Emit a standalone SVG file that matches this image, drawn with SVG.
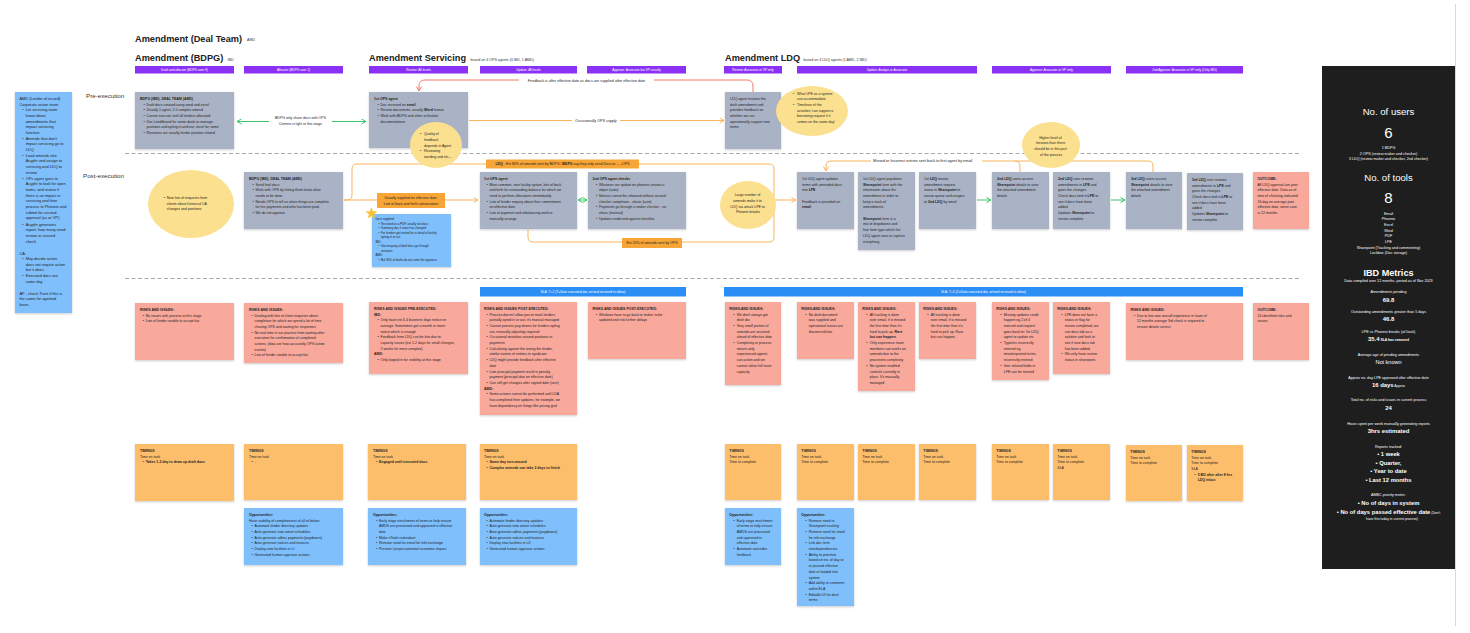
<svg xmlns="http://www.w3.org/2000/svg" width="1470" height="633" viewBox="0 0 1470 633">
<defs>
<style>
text{font-family:"Liberation Sans",Arial,sans-serif;fill:#1d1d1d}
.t{font-size:3.5px}
.n{font-size:3.9px}
.ts{font-size:2.9px}
.b{font-weight:700}
.h{font-size:9.2px;font-weight:700;fill:#222}
.s{font-size:3.6px;fill:#333}
.rl{font-size:6.2px;fill:#333}
.bar{fill:#8b31f5}
.bt{font-size:3.2px;fill:#fff;text-anchor:middle}
.gray{fill:#aab3c5}
.red{fill:#f9a89c}
.org{fill:#fdbe6c}
.blu{fill:#7fc0fc}
.yel{fill:#fbe08f}
.sla{fill:#2b8ef5}
.lbl{fill:#f7a536}
.cg{stroke:#3ec46d;stroke-width:1;fill:none}
.co{stroke:#f9b55c;stroke-width:1;fill:none}
.cr{stroke:#f27a67;stroke-width:1;fill:none}
.dash{stroke:#a0a0a0;stroke-width:0.9;stroke-dasharray:4 2.5}
.c{text-anchor:middle}
.pc{text-anchor:middle;fill:#fff}
.ps{font-size:3.7px}
.pv{font-size:5.9px;font-weight:700}
.pb{font-size:5.8px;font-weight:700}
</style>
<filter id="sh" x="-10%" y="-10%" width="120%" height="130%"><feDropShadow dx="0" dy="1" stdDeviation="0.8" flood-color="#000" flood-opacity="0.2"/></filter>
<marker id="mg" markerUnits="userSpaceOnUse" markerWidth="6" markerHeight="6" refX="5" refY="3" orient="auto-start-reverse"><path d="M0.5,0.5 L5,3 L0.5,5.5" fill="none" stroke="#3ec46d" stroke-width="1"/></marker>
<marker id="mo" markerUnits="userSpaceOnUse" markerWidth="6" markerHeight="6" refX="5" refY="3" orient="auto-start-reverse"><path d="M0.5,0.5 L5,3 L0.5,5.5" fill="none" stroke="#f9b55c" stroke-width="1"/></marker>
<marker id="mr" markerUnits="userSpaceOnUse" markerWidth="6" markerHeight="6" refX="5" refY="3" orient="auto-start-reverse"><path d="M0.5,0.5 L5,3 L0.5,5.5" fill="none" stroke="#f27a67" stroke-width="1"/></marker>
</defs>
<rect width="1470" height="633" fill="#fff"/>
<line x1="1455.5" y1="4" x2="1455.5" y2="626" stroke="#d8d8d8" stroke-width="1"/>

<g id="titles">
<text x="135" y="41.5" class="h">Amendment (Deal Team)</text>
<text x="247" y="41" class="s">AMD</text>
<text x="135" y="60.5" class="h">Amendment (BDPG)</text>
<text x="227.5" y="60.5" class="s">IBD</text>
<text x="369" y="60.5" class="h">Amendment Servicing</text>
<text x="470.5" y="60.5" class="s">based on 4 OPS agents (3 IBD, 1 AMD)</text>
<text x="725" y="60.5" class="h">Amendment LDQ</text>
<text x="803.5" y="60.5" class="s">based on 3 LDQ agents (1 AMD, 2 IBD)</text>
<text x="86" y="98" class="rl">Pre-execution</text>
<text x="83" y="178" class="rl">Post-execution</text>
</g>

<g id="role-bars">
<rect x="135" y="66" width="99" height="7.5" class="bar"/><text x="184.5" y="70.9" class="bt">Draft and allocate (BDPG user 9)</text>
<rect x="244" y="66" width="99" height="7.5" class="bar"/><text x="293.5" y="70.9" class="bt">Allocate (BDPG user 1)</text>
<rect x="369" y="66" width="99" height="7.5" class="bar"/><text x="418.5" y="70.9" class="bt">Review: All levels</text>
<rect x="480" y="66" width="97" height="7.5" class="bar"/><text x="528.5" y="70.9" class="bt">Update: All levels</text>
<rect x="587" y="66" width="99" height="7.5" class="bar"/><text x="636.5" y="70.9" class="bt">Approve: Associate but VP usually</text>
<rect x="724" y="66" width="58" height="7.5" class="bar"/><text x="753" y="70.9" class="bt">Review: Associate or VP only</text>
<rect x="797" y="66" width="180" height="7.5" class="bar"/><text x="887" y="70.9" class="bt">Update: Analyst or Associate</text>
<rect x="992" y="66" width="119" height="7.5" class="bar"/><text x="1051.5" y="70.9" class="bt">Approve: Associate or VP only</text>
<rect x="1126" y="66" width="117" height="7.5" class="bar"/><text x="1184.5" y="70.9" class="bt">2nd Approve: Associate or VP only (Only IBD)</text>
</g>

<g id="separators">
<line x1="125" y1="153.5" x2="1299" y2="153.5" class="dash"/>
<line x1="125" y1="278.5" x2="1299" y2="278.5" class="dash"/>
</g>

<g id="connectors">
<line x1="237" y1="121.5" x2="366" y2="121.5" class="cg" marker-start="url(#mg)" marker-end="url(#mg)"/>
<rect x="269" y="114" width="63" height="13" fill="#fff"/>
<text x="300.5" y="118.9" class="t c">BDPG only share docs with OPS</text>
<text x="300.5" y="125.2" class="t c">Comms is light at this stage</text>

<path d="M753,92 V86 Q753,80 747,80 H425 Q419,80 419,86 V91" class="cr" marker-end="url(#mr)"/>
<rect x="519" y="77" width="135" height="6" fill="#fff"/>
<text x="586.5" y="81.6" class="c" font-size="3.7">Feedback is after effective date as docs are supplied after effective date</text>

<line x1="469" y1="120.5" x2="724" y2="120.5" class="co" marker-end="url(#mo)"/>
<rect x="572" y="117" width="48" height="7" fill="#fff"/>
<text x="596" y="121.9" class="c" font-size="3.7">Occasionally OPS supply</text>

<path d="M344,200 H347 Q352,200 352,195 V169 Q352,164 357,164 H769 Q774,164 774,169 V237 Q774,242 769,242 H533 Q528,242 528,237 V230" class="co"/>
<line x1="344" y1="200" x2="478" y2="200" class="co" marker-end="url(#mo)"/>
<line x1="774" y1="200" x2="796" y2="200" class="co" marker-end="url(#mo)"/>
<rect x="377" y="193" width="68" height="15" class="lbl"/>
<text x="411" y="198.9" class="t c">Usually supplied on effective date.</text>
<text x="411" y="205.2" class="t c">Lots of back and forth conversation</text>
<rect x="486" y="159.5" width="153" height="9" class="lbl"/>
<text x="562.5" y="165.2" class="t c"><tspan class="b">LDQ</tspan> - Est 80% of amends sent by BDPG / <tspan class="b">BDPG</tspan> say they only send Docs to ... +OPS</text>
<rect x="622" y="238" width="60" height="10" class="lbl"/>
<text x="652" y="244.2" class="t c">Est 20% of amends sent by OPS</text>

<line x1="578" y1="200" x2="587" y2="200" class="cg" marker-start="url(#mg)" marker-end="url(#mg)"/>
<line x1="977" y1="200" x2="991" y2="200" class="cg" marker-end="url(#mg)"/>
<line x1="1111" y1="200" x2="1125" y2="200" class="cg" marker-end="url(#mg)"/>

<path d="M1153,172 V166 Q1153,161 1148,161 H831 Q826,161 826,166 V171" class="co" marker-end="url(#mo)"/>
<path d="M1020,172 V166 Q1020,161 1015,161" class="co"/>
<rect x="871" y="158" width="111" height="6" fill="#fff"/>
<text x="873" y="162.4" font-size="3.8">Missed or Incorrect entries sent back to first agent by email</text>
</g>

<g id="amd-note">
<rect x="15" y="92" width="57" height="221" class="blu" filter="url(#sh)"/>
<text class="n">
<tspan x="19.5" y="100">AMD (Lender of record)</tspan>
<tspan x="19.5" y="105.5">Corporate action team:</tspan>
<tspan x="22.3" y="111.2">•</tspan><tspan x="25.7">Let servicing team</tspan>
<tspan x="25.7" y="116.9">know about</tspan>
<tspan x="25.7" y="122.5">amendments that</tspan>
<tspan x="25.7" y="128.2">impact servicing</tspan>
<tspan x="25.7" y="133.9">function.</tspan>
<tspan x="22.3" y="139.5">•</tspan><tspan x="25.7">Amends that don't</tspan>
<tspan x="25.7" y="145.2">impact servicing go to</tspan>
<tspan x="25.7" y="150.9">LDQ</tspan>
<tspan x="22.3" y="156.5">•</tspan><tspan x="25.7">Load amends into</tspan>
<tspan x="25.7" y="162.2">Acyphr and assign to</tspan>
<tspan x="25.7" y="167.9">servicing and LDQ to</tspan>
<tspan x="25.7" y="173.5">review</tspan>
<tspan x="22.3" y="179.5">•</tspan><tspan x="25.7">OPs agent goes to</tspan>
<tspan x="25.7" y="185.2">Acyphr to look for open</tspan>
<tspan x="25.7" y="190.9">items, and review if</tspan>
<tspan x="25.7" y="196.5">there is an impact in</tspan>
<tspan x="25.7" y="202.2">servicing and then</tspan>
<tspan x="25.7" y="207.9">process to Phoenix and</tspan>
<tspan x="25.7" y="213.5">submit for second</tspan>
<tspan x="25.7" y="219.2">approval (as or VP).</tspan>
<tspan x="22.3" y="225.5">•</tspan><tspan x="25.7">Acyphr generates</tspan>
<tspan x="25.7" y="231.2">report, how many need</tspan>
<tspan x="25.7" y="236.9">review or second</tspan>
<tspan x="25.7" y="242.5">check</tspan>
<tspan x="19.5" y="254.5">CA:</tspan>
<tspan x="22.3" y="259.9">•</tspan><tspan x="25.7">May decide action</tspan>
<tspan x="25.7" y="265.5">does not require action</tspan>
<tspan x="25.7" y="271.2">but it does.</tspan>
<tspan x="22.3" y="277.2">•</tspan><tspan x="25.7">Executed docs are</tspan>
<tspan x="25.7" y="282.9">same day</tspan>
<tspan x="19.5" y="294.5">AP - check Trent if this is</tspan>
<tspan x="19.5" y="300.2">the same for agented</tspan>
<tspan x="19.5" y="305.9">loans</tspan>
</text>
</g>

<g id="bdpg-pre">
<rect x="135" y="92" width="99" height="57" class="gray" filter="url(#sh)"/>
<text class="t">
<tspan x="140" y="99.8" class="b">BDPG (IBD), DEAL TEAM (AMD)</tspan>
<tspan x="143.5" y="105.5">•</tspan><tspan x="146.5">Draft docs created using word and excel</tspan>
<tspan x="143.5" y="111.2">•</tspan><tspan x="146.5">Usually 1 agent, 2 if complex amend</tspan>
<tspan x="143.5" y="116.9">•</tspan><tspan x="146.5">Cannot execute until all lenders allocated</tspan>
<tspan x="143.5" y="122.6">•</tspan><tspan x="146.5">Use Lendfbrand for some deals to manage</tspan>
<tspan x="146.5" y="128.3">positions and opting in and out, excel for some</tspan>
<tspan x="143.5" y="134">•</tspan><tspan x="146.5">Revisions are usually lender position related</tspan>
</text>
</g>

<g id="ops-pre">
<rect x="369" y="92" width="99" height="56" class="gray" filter="url(#sh)"/>
<text class="t">
<tspan x="374" y="99.8" class="b">1st OPS agent</tspan>
<tspan x="377.5" y="105.5">•</tspan><tspan x="380.5">Doc received on </tspan><tspan class="b">email</tspan>
<tspan x="377.5" y="111.2">•</tspan><tspan x="380.5">Review documents, usually </tspan><tspan class="b">Word</tspan><tspan> format</tspan>
<tspan x="377.5" y="116.9">•</tspan><tspan x="380.5">Work with BDPG and other to finalise</tspan>
<tspan x="380.5" y="122.6">documentations</tspan>
</text>
</g>

<g id="ops-pre-note">
<ellipse cx="436" cy="145" rx="26" ry="23" class="yel"/>
<text class="t">
<tspan x="420" y="135.2">•</tspan><tspan x="424">Quality of</tspan>
<tspan x="424" y="140.8">feedback</tspan>
<tspan x="424" y="146.5">depends in Agent</tspan>
<tspan x="420" y="152.2">•</tspan><tspan x="424">Reviewing</tspan>
<tspan x="424" y="157.9">wording and etc...</tspan>
</text>
</g>

<g id="ldq-pre">
<rect x="725" y="92" width="56" height="57" class="gray" filter="url(#sh)"/>
<text class="t">
<tspan x="730" y="99.8">LDQ agent reviews the</tspan>
<tspan x="730" y="105.5">draft amendment and</tspan>
<tspan x="730" y="111.2">provides feedback on</tspan>
<tspan x="730" y="116.9">whether we can</tspan>
<tspan x="730" y="122.6">operationally support new</tspan>
<tspan x="730" y="128.3">terms</tspan>
</text>
</g>

<g id="ldq-pre-note">
<ellipse cx="812" cy="111" rx="36" ry="25" class="yel"/>
<text class="t">
<tspan x="793" y="94.5">•</tspan><tspan x="797">What LPE as a system</tspan>
<tspan x="797" y="100.2">can accommodate</tspan>
<tspan x="793" y="106">•</tspan><tspan x="797">Timelines of the</tspan>
<tspan x="797" y="111.7">activities 'can support a</tspan>
<tspan x="797" y="117.4">borrowing request if it</tspan>
<tspan x="797" y="123.1">comes on the same day'</tspan>
</text>
</g>

<g id="post-note">
<ellipse cx="191" cy="204" rx="43" ry="34" class="yel"/>
<text class="t">
<tspan x="163.7" y="199">•</tspan><tspan x="166.7">Now lots of enquiries from</tspan>
<tspan x="166.7" y="204.7">clients about historical CA</tspan>
<tspan x="166.7" y="210.4">changes and positions</tspan>
</text>
</g>

<g id="bdpg-post">
<rect x="244" y="172" width="99" height="57" class="gray" filter="url(#sh)"/>
<text class="t">
<tspan x="249" y="179.8" class="b">BDPG (IBD), DEAL TEAM (AMD)</tspan>
<tspan x="252.5" y="185.5">•</tspan><tspan x="255.5">Send final docs</tspan>
<tspan x="252.5" y="191.2">•</tspan><tspan x="255.5">Work with OPS by letting them know what</tspan>
<tspan x="255.5" y="196.9">needs to be done</tspan>
<tspan x="252.5" y="202.6">•</tspan><tspan x="255.5">Needs OPS to tell us when things are complete</tspan>
<tspan x="255.5" y="208.3">for fee payments and who has been paid.</tspan>
<tspan x="252.5" y="214">•</tspan><tspan x="255.5">We do not approve</tspan>
</text>
</g>

<g id="docs-supplied">
<rect x="372" y="214" width="79" height="53" class="blu" filter="url(#sh)"/>
<text class="ts">
<tspan x="375.5" y="220">Docs supplied:</tspan>
<tspan x="378.5" y="224.5">•</tspan><tspan x="381">Received as a PDF, usually not docx</tspan>
<tspan x="378.5" y="229">•</tspan><tspan x="381">Summary doc if value has changed</tspan>
<tspan x="378.5" y="233.5">•</tspan><tspan x="381">For lenders get invited for in detail of facility</tspan>
<tspan x="381" y="238">opting in or out.</tspan>
<tspan x="375.5" y="242.5">IBD:</tspan>
<tspan x="378.5" y="247">•</tspan><tspan x="381">Vast majority of draft docs go through</tspan>
<tspan x="381" y="251.5">revisions</tspan>
<tspan x="375.5" y="256">AMD:</tspan>
<tspan x="378.5" y="260.5">•</tspan><tspan x="381">But 90% of drafts do not come for signature</tspan>
</text>
<polygon points="371.5,208 372.85,211.64 376.73,211.8 373.69,214.21 374.73,217.95 371.5,215.8 368.27,217.95 369.31,214.21 366.27,211.8 370.15,211.64" fill="#f8c12d" stroke="#f8c12d" stroke-width="0.6" stroke-linejoin="round"/>
</g>

<g id="ops1-post">
<rect x="480" y="172" width="97" height="57" class="gray" filter="url(#sh)"/>
<text class="t">
<tspan x="484" y="179.8" class="b">1st OPS agent</tspan>
<tspan x="486.5" y="185.5">•</tspan><tspan x="489.5">Most common, new facility upsize, lots of back</tspan>
<tspan x="489.5" y="191.2">and forth for outstanding balance for which we</tspan>
<tspan x="489.5" y="196.9">need to perform allocations immediately</tspan>
<tspan x="486.5" y="202.6">•</tspan><tspan x="489.5">Lots of lender enquiry about their commitment</tspan>
<tspan x="489.5" y="208.3">on effective date</tspan>
<tspan x="486.5" y="214">•</tspan><tspan x="489.5">Lots of payment and rebalancing work to</tspan>
<tspan x="489.5" y="219.7">manually arrange</tspan>
</text>
</g>

<g id="ops2-post">
<rect x="588" y="172" width="98" height="57" class="gray" filter="url(#sh)"/>
<text class="t">
<tspan x="592.5" y="179.8" class="b">2nd OPS agent checks</tspan>
<tspan x="596" y="185.5">•</tspan><tspan x="599">Whatever we update on phoenix creates a</tspan>
<tspan x="599" y="191.2">object (auto)</tspan>
<tspan x="596" y="196.9">•</tspan><tspan x="599">Notices cannot be released without second</tspan>
<tspan x="599" y="202.6">checker completion - ofasic (auto)</tspan>
<tspan x="596" y="208.3">•</tspan><tspan x="599">Payments go through a maker checker - no</tspan>
<tspan x="599" y="214">ofasic (manual)</tspan>
<tspan x="596" y="219.7">•</tspan><tspan x="599">Updates endorsed against checklist</tspan>
</text>
</g>

<g id="ldq-post-note">
<ellipse cx="748" cy="205" rx="28" ry="24" class="yel"/>
<text class="t c">
<tspan x="748" y="196.2">Large number of</tspan>
<tspan x="748" y="201.9">amends make it to</tspan>
<tspan x="748" y="207.6">LDQ via attack LPE to</tspan>
<tspan x="748" y="213.3">Phoenix breaks</tspan>
</text>
</g>

<g id="ldq1-update">
<rect x="797" y="172" width="57" height="57" class="gray" filter="url(#sh)"/>
<text class="t">
<tspan x="802" y="179.8">1st LDQ agent updates</tspan>
<tspan x="802" y="185.5">terms with amended docs</tspan>
<tspan x="802" y="191.2">into </tspan><tspan class="b">LPE</tspan>
<tspan x="802" y="202.6">Feedback is provided on</tspan>
<tspan x="802" y="208.3" class="b">email</tspan>
</text>
</g>

<g id="ldq1-sharepoint">
<rect x="858" y="172" width="57" height="78" class="gray" filter="url(#sh)"/>
<text class="t">
<tspan x="863" y="179.8">1st LDQ agent populates</tspan>
<tspan x="863" y="185.5" class="b">Sharepoint</tspan><tspan> form with the</tspan>
<tspan x="863" y="191.2">information about the</tspan>
<tspan x="863" y="196.9">amendment in order to</tspan>
<tspan x="863" y="202.6">keep a track of</tspan>
<tspan x="863" y="208.3">amendments.</tspan>
<tspan x="863" y="219.7" class="b">Sharepoint</tspan><tspan> form is a</tspan>
<tspan x="863" y="225.4">mix of dropdowns and</tspan>
<tspan x="863" y="231.1">free form type which the</tspan>
<tspan x="863" y="236.8">LDQ agent uses to capture</tspan>
<tspan x="863" y="242.5">everything.</tspan>
</text>
</g>

<g id="ldq1-assign">
<rect x="919" y="172" width="57" height="57" class="gray" filter="url(#sh)"/>
<text class="t">
<tspan x="924" y="179.8">1st </tspan><tspan class="b">LDQ</tspan><tspan> moves</tspan>
<tspan x="924" y="185.5">amendment request</tspan>
<tspan x="924" y="191.2">status in </tspan><tspan class="b">Sharepoint</tspan><tspan> to</tspan>
<tspan x="924" y="196.9">review queue and assigns</tspan>
<tspan x="924" y="202.6">to </tspan><tspan class="b">2nd LDQ</tspan><tspan> by email</tspan>
</text>
</g>

<g id="ldq2-access">
<rect x="992" y="172" width="57" height="57" class="gray" filter="url(#sh)"/>
<text class="t">
<tspan x="997" y="179.8" class="b">2nd LDQ</tspan><tspan> users access</tspan>
<tspan x="997" y="185.5" class="b">Sharepoint</tspan><tspan> details to view</tspan>
<tspan x="997" y="191.2">the attached amendment</tspan>
<tspan x="997" y="196.9">details</tspan>
</text>
</g>

<g id="ldq2-review">
<rect x="1053" y="172" width="57" height="57" class="gray" filter="url(#sh)"/>
<text class="t">
<tspan x="1058" y="179.8" class="b">2nd LDQ</tspan><tspan> user reviews</tspan>
<tspan x="1058" y="185.5">amendments in </tspan><tspan class="b">LPE</tspan><tspan> and</tspan>
<tspan x="1058" y="191.2">gives the changes</tspan>
<tspan x="1058" y="196.9">Check docs tied in </tspan><tspan class="b">LPE</tspan><tspan> to</tspan>
<tspan x="1058" y="202.6">see if docs have been</tspan>
<tspan x="1058" y="208.3">added</tspan>
<tspan x="1058" y="214">Updates </tspan><tspan class="b">Sharepoint</tspan><tspan> to</tspan>
<tspan x="1058" y="219.7">review complete</tspan>
</text>
</g>

<g id="ldq3-access">
<rect x="1126" y="172" width="56" height="57" class="gray" filter="url(#sh)"/>
<text class="t">
<tspan x="1131" y="179.8" class="b">3rd LDQ</tspan><tspan> users access</tspan>
<tspan x="1131" y="185.5" class="b">Sharepoint</tspan><tspan> details to view</tspan>
<tspan x="1131" y="191.2">the attached amendment</tspan>
<tspan x="1131" y="196.9">details</tspan>
</text>
</g>

<g id="ldq3-review">
<rect x="1187" y="173" width="56" height="57" class="gray" filter="url(#sh)"/>
<text class="t">
<tspan x="1192" y="180.8" class="b">3rd LDQ</tspan><tspan> user reviews</tspan>
<tspan x="1192" y="186.5">amendments in </tspan><tspan class="b">LPE</tspan><tspan> and</tspan>
<tspan x="1192" y="192.2">gives the changes</tspan>
<tspan x="1192" y="197.9">Check docs tied in </tspan><tspan class="b">LPE</tspan><tspan> to</tspan>
<tspan x="1192" y="203.6">see if docs have been</tspan>
<tspan x="1192" y="209.3">added</tspan>
<tspan x="1192" y="215">Updates </tspan><tspan class="b">Sharepoint</tspan><tspan> to</tspan>
<tspan x="1192" y="220.7">review complete</tspan>
</text>
</g>

<g id="outcome-ldq">
<rect x="1253" y="172" width="56" height="57" class="red" filter="url(#sh)"/>
<text class="t">
<tspan x="1257.5" y="179.8" class="b">OUTCOME:</tspan>
<tspan x="1257.5" y="185.5">All LDQ approval are post</tspan>
<tspan x="1257.5" y="191.2">effective date. Data as of</tspan>
<tspan x="1257.5" y="196.9">time of checking indicated</tspan>
<tspan x="1257.5" y="202.6">16 day on average post</tspan>
<tspan x="1257.5" y="208.3">effective date, worst case</tspan>
<tspan x="1257.5" y="214">is 12 months</tspan>
</text>
</g>

<g id="iteration-note">
<ellipse cx="1051" cy="145" rx="29" ry="23" class="yel"/>
<text class="t c">
<tspan x="1051" y="138.5">Higher level of</tspan>
<tspan x="1051" y="144.3">iteration than there</tspan>
<tspan x="1051" y="150.1">should be in this part</tspan>
<tspan x="1051" y="155.9">of the process</tspan>
</text>
</g>

<g id="sla-bars">
<rect x="480" y="287" width="206" height="9.5" class="sla"/>
<text x="583" y="293" class="c" font-size="3.3" style="fill:#fff">SLA: T+2 (T=Date executed doc arrived received in inbox)</text>
<rect x="724" y="287" width="519" height="9.5" class="sla"/>
<text x="983.5" y="293" class="c" font-size="3.3" style="fill:#fff">SLA: T+5 (T=Date executed doc arrived received in inbox)</text>
</g>

<g id="risk-1">
<rect x="135" y="303" width="99" height="57" class="red" filter="url(#sh)"/>
<text class="t">
<tspan x="140" y="310.8" class="b">RISKS AND ISSUES:</tspan>
<tspan x="142.7" y="316.5">•</tspan><tspan x="145.7">No issues with process at this stage</tspan>
<tspan x="142.7" y="322.2">•</tspan><tspan x="145.7">Lots of lender unable to accept fax</tspan>
</text>
</g>

<g id="risk-2">
<rect x="244" y="303" width="99" height="60" class="red" filter="url(#sh)"/>
<text class="t">
<tspan x="249" y="310.8" class="b">RISKS AND ISSUES:</tspan>
<tspan x="251.5" y="316.5">•</tspan><tspan x="254.5">Dealing with lots of client enquiries about</tspan>
<tspan x="254.5" y="322.2">completion for which we spend a lot of time</tspan>
<tspan x="254.5" y="327.9">chasing OPS and waiting for responses</tspan>
<tspan x="251.5" y="333.6">•</tspan><tspan x="254.5">No real-time in our process from waiting after</tspan>
<tspan x="254.5" y="339.3">execution for confirmation of completed</tspan>
<tspan x="254.5" y="345">actions, (data are how accurately OPS action</tspan>
<tspan x="254.5" y="350.7">events)</tspan>
<tspan x="251.5" y="356.4">•</tspan><tspan x="254.5">Lots of lender unable to accept fax</tspan>
</text>
</g>

<g id="risk-3">
<rect x="369" y="302" width="99" height="72" class="red" filter="url(#sh)"/>
<text class="t">
<tspan x="374" y="309.8" class="b">RISKS AND ISSUES PRE-EXECUTED:</tspan>
<tspan x="374" y="315.5" class="b">IBD:</tspan>
<tspan x="377.5" y="321.2">•</tspan><tspan x="380.5">Only have est 3-4 business days notice on</tspan>
<tspan x="380.5" y="326.9">average. Sometimes get a month or more</tspan>
<tspan x="380.5" y="332.6">notice which is enough</tspan>
<tspan x="377.5" y="338.3">•</tspan><tspan x="380.5">Feedback from LDQ can be late due to</tspan>
<tspan x="380.5" y="344">capacity issues (est 1-2 days for small changes,</tspan>
<tspan x="380.5" y="349.7">2 weeks for more complex)</tspan>
<tspan x="374" y="355.4" class="b">AMD:</tspan>
<tspan x="377.5" y="361.1">•</tspan><tspan x="380.5">Only looped in for visibility at this stage</tspan>
</text>
</g>

<g id="risk-4">
<rect x="480" y="302" width="97" height="113" class="red" filter="url(#sh)"/>
<text class="t">
<tspan x="484" y="309.8" class="b">RISKS AND ISSUES POST-EXECUTED:</tspan>
<tspan x="486.5" y="315.5">•</tspan><tspan x="489.5">Process doesn't allow you to mark lenders</tspan>
<tspan x="489.5" y="321.2">partially opted in or out, it's manual managed</tspan>
<tspan x="486.5" y="326.9">•</tspan><tspan x="489.5">Cannot process pay downs for lenders opting</tspan>
<tspan x="489.5" y="332.6">out, manually adjusting required</tspan>
<tspan x="486.5" y="338.3">•</tspan><tspan x="489.5">Occasional mistakes around positions or</tspan>
<tspan x="489.5" y="344">payments</tspan>
<tspan x="486.5" y="349.7">•</tspan><tspan x="489.5">Calculating against the wrong the lender,</tspan>
<tspan x="489.5" y="355.4">similar names of entities in syndicate.</tspan>
<tspan x="486.5" y="361.1">•</tspan><tspan x="489.5">LDQ might provide feedback after effective</tspan>
<tspan x="489.5" y="366.8">date</tspan>
<tspan x="486.5" y="372.5">•</tspan><tspan x="489.5">Late principal payment result in penalty</tspan>
<tspan x="489.5" y="378.2">payment (principal due on effective date)</tspan>
<tspan x="486.5" y="383.9">•</tspan><tspan x="489.5">Can still get changes after signed date (rare)</tspan>
<tspan x="484" y="389.6" class="b">AMD:</tspan>
<tspan x="486.5" y="395.3">•</tspan><tspan x="489.5">Some actions cannot be performed until LDA</tspan>
<tspan x="489.5" y="401">has completed their updates, for example, we</tspan>
<tspan x="489.5" y="406.7">have dependency on things like pricing grid</tspan>
</text>
</g>

<g id="risk-5">
<rect x="588" y="302" width="98" height="57" class="red" filter="url(#sh)"/>
<text class="t">
<tspan x="592.5" y="309.8" class="b">RISKS AND ISSUES POST-EXECUTED:</tspan>
<tspan x="596" y="315.5">•</tspan><tspan x="599">Windows have to go back to maker to be</tspan>
<tspan x="599" y="321.2">updated and risk further delays</tspan>
</text>
</g>

<g id="risk-6">
<rect x="725" y="302" width="56" height="83" class="red" filter="url(#sh)"/>
<text class="t">
<tspan x="729.3" y="309.8" class="b">RISKS AND ISSUES:</tspan>
<tspan x="733.3" y="315.5">•</tspan><tspan x="736.7">We don't always get</tspan>
<tspan x="736.7" y="321.2">draft doc</tspan>
<tspan x="733.3" y="326.9">•</tspan><tspan x="736.7">Very small portion of</tspan>
<tspan x="736.7" y="332.6">amends are received</tspan>
<tspan x="736.7" y="338.3">ahead of effective date</tspan>
<tspan x="733.3" y="344">•</tspan><tspan x="736.7">Complexity or process</tspan>
<tspan x="736.7" y="349.7">means only</tspan>
<tspan x="736.7" y="355.4">experienced agents</tspan>
<tspan x="736.7" y="361.1">can action and we</tspan>
<tspan x="736.7" y="366.8">cannot utilise full team</tspan>
<tspan x="736.7" y="372.5">capacity</tspan>
</text>
</g>

<g id="risk-7">
<rect x="797" y="302" width="57" height="57" class="red" filter="url(#sh)"/>
<text class="t">
<tspan x="801.3" y="309.8" class="b">RISKS AND ISSUES:</tspan>
<tspan x="805.3" y="315.5">•</tspan><tspan x="808.7">No draft document</tspan>
<tspan x="808.7" y="321.2">was supplied and</tspan>
<tspan x="808.7" y="326.9">operational issues are</tspan>
<tspan x="808.7" y="332.6">discovered late</tspan>
</text>
</g>

<g id="risk-8">
<rect x="858" y="302" width="57" height="89" class="red" filter="url(#sh)"/>
<text class="t">
<tspan x="862.3" y="309.8" class="b">RISKS AND ISSUES:</tspan>
<tspan x="866.3" y="315.5">•</tspan><tspan x="869.7">All tracking is done</tspan>
<tspan x="869.7" y="321.2">over email, if is missed</tspan>
<tspan x="869.7" y="326.9">the first time then it's</tspan>
<tspan x="869.7" y="332.6">hard to pick up. </tspan><tspan class="b">Rare</tspan>
<tspan x="869.7" y="338.3" class="b">but can happen.</tspan>
<tspan x="866.3" y="344">•</tspan><tspan x="869.7">Only experience team</tspan>
<tspan x="869.7" y="349.7">members can works on</tspan>
<tspan x="869.7" y="355.4">amends due to the</tspan>
<tspan x="869.7" y="361.1">processes complexity</tspan>
<tspan x="866.3" y="366.8">•</tspan><tspan x="869.7">No system enabled</tspan>
<tspan x="869.7" y="372.5">controls currently in</tspan>
<tspan x="869.7" y="378.2">place. It's manually</tspan>
<tspan x="869.7" y="383.9">managed</tspan>
</text>
</g>

<g id="risk-9">
<rect x="919" y="302" width="57" height="57" class="red" filter="url(#sh)"/>
<text class="t">
<tspan x="923.3" y="309.8" class="b">RISKS AND ISSUES:</tspan>
<tspan x="927.3" y="315.5">•</tspan><tspan x="930.7">All tracking is done</tspan>
<tspan x="930.7" y="321.2">over email, if is missed</tspan>
<tspan x="930.7" y="326.9">the first time then it's</tspan>
<tspan x="930.7" y="332.6">hard to pick up. Rare</tspan>
<tspan x="930.7" y="338.3">but can happen.</tspan>
</text>
</g>

<g id="risk-10">
<rect x="992" y="302" width="57" height="78" class="red" filter="url(#sh)"/>
<text class="t">
<tspan x="996.3" y="309.8" class="b">RISKS AND ISSUES:</tspan>
<tspan x="1000.3" y="315.5">•</tspan><tspan x="1003.7">Missing updates could</tspan>
<tspan x="1003.7" y="321.2">happen eg 2 of 4</tspan>
<tspan x="1003.7" y="326.9">entered and request</tspan>
<tspan x="1003.7" y="332.6">goes back for 1st LDQ</tspan>
<tspan x="1003.7" y="338.3">agent to update etc</tspan>
<tspan x="1000.3" y="344">•</tspan><tspan x="1003.7">Typo/ies incorrectly</tspan>
<tspan x="1003.7" y="349.7">entered eg</tspan>
<tspan x="1003.7" y="355.4">misinterpreted terms,</tspan>
<tspan x="1003.7" y="361.1">incorrectly entered</tspan>
<tspan x="1000.3" y="366.8">•</tspan><tspan x="1003.7">Inter related fields in</tspan>
<tspan x="1003.7" y="372.5">LPE can be missed</tspan>
</text>
</g>

<g id="risk-11">
<rect x="1053" y="302" width="57" height="72" class="red" filter="url(#sh)"/>
<text class="t">
<tspan x="1057.3" y="309.8" class="b">RISKS AND ISSUES:</tspan>
<tspan x="1061.3" y="315.5">•</tspan><tspan x="1064.7">LPE does not have a</tspan>
<tspan x="1064.7" y="321.2">status or flag for</tspan>
<tspan x="1064.7" y="326.9">review completed, we</tspan>
<tspan x="1064.7" y="332.6">use docs tab as a</tspan>
<tspan x="1064.7" y="338.3">solution and look to</tspan>
<tspan x="1064.7" y="344">see if new docs tab</tspan>
<tspan x="1064.7" y="349.7">has been added.</tspan>
<tspan x="1061.3" y="355.4">•</tspan><tspan x="1064.7">We only have review</tspan>
<tspan x="1064.7" y="361.1">status in sharepoint.</tspan>
</text>
</g>

<g id="risk-12">
<rect x="1126" y="303" width="117" height="57" class="red" filter="url(#sh)"/>
<text class="t">
<tspan x="1130.5" y="310.8" class="b">RISKS AND ISSUES:</tspan>
<tspan x="1134" y="316.5">•</tspan><tspan x="1137">Due to low own overall experience in team of</tspan>
<tspan x="1137" y="322.2">12 months average 3rd check is required to</tspan>
<tspan x="1137" y="327.9">ensure details correct</tspan>
</text>
</g>

<g id="outcome-risks">
<rect x="1253" y="303" width="56" height="57" class="red" filter="url(#sh)"/>
<text class="t">
<tspan x="1257.5" y="310.8" class="b">OUTCOME:</tspan>
<tspan x="1257.5" y="316.5">24 identified risks and</tspan>
<tspan x="1257.5" y="322.2">issues</tspan>
</text>
</g>

<g id="timing-1">
<rect x="135" y="444" width="99" height="57" class="org" filter="url(#sh)"/>
<text class="t">
<tspan x="140" y="451.8" class="b">TIMINGS</tspan>
<tspan x="140" y="457.5">Time on task</tspan>
<tspan x="142.7" y="463.2">•</tspan><tspan x="145.7" class="b">Takes 1-2 day to draw up draft docs</tspan>
</text>
</g>
<g id="timing-2">
<rect x="244" y="444" width="99" height="56" class="org" filter="url(#sh)"/>
<text class="t">
<tspan x="249" y="451.8" class="b">TIMINGS</tspan>
<tspan x="249" y="457.5">Time on task</tspan>
<tspan x="251.5" y="463.2">•</tspan><tspan x="254.5">-</tspan>
</text>
</g>
<g id="timing-3">
<rect x="368" y="444" width="98" height="56" class="org" filter="url(#sh)"/>
<text class="t">
<tspan x="373" y="451.8" class="b">TIMINGS</tspan>
<tspan x="373" y="457.5">Time on task</tspan>
<tspan x="376" y="463.2">•</tspan><tspan x="379" class="b">Engaged until executed docs</tspan>
</text>
</g>
<g id="timing-4">
<rect x="480" y="444" width="97" height="56" class="org" filter="url(#sh)"/>
<text class="t">
<tspan x="484" y="451.8" class="b">TIMINGS</tspan>
<tspan x="484" y="457.5">Time on task</tspan>
<tspan x="486.5" y="463.2">•</tspan><tspan x="489.5" class="b">Same day turn-around</tspan>
<tspan x="486.5" y="468.9">•</tspan><tspan x="489.5" class="b">Complex amends can take 2 days to finish</tspan>
</text>
</g>
<g id="timing-5">
<rect x="725" y="444" width="56" height="56" class="org" filter="url(#sh)"/>
<text class="t"><tspan x="729.3" y="451.8" class="b">TIMINGS</tspan><tspan x="729.3" y="457.5">Time on task</tspan><tspan x="729.3" y="463.2">Time to complete</tspan></text>
</g>
<g id="timing-6">
<rect x="797" y="444" width="57" height="56" class="org" filter="url(#sh)"/>
<text class="t"><tspan x="801.3" y="451.8" class="b">TIMINGS</tspan><tspan x="801.3" y="457.5">Time on task</tspan><tspan x="801.3" y="463.2">Time to complete</tspan></text>
</g>
<g id="timing-7">
<rect x="858" y="444" width="57" height="56" class="org" filter="url(#sh)"/>
<text class="t"><tspan x="862.3" y="451.8" class="b">TIMINGS</tspan><tspan x="862.3" y="457.5">Time on task</tspan><tspan x="862.3" y="463.2">Time to complete</tspan></text>
</g>
<g id="timing-8">
<rect x="919" y="444" width="57" height="56" class="org" filter="url(#sh)"/>
<text class="t"><tspan x="923.3" y="451.8" class="b">TIMINGS</tspan><tspan x="923.3" y="457.5">Time on task</tspan><tspan x="923.3" y="463.2">Time to complete</tspan></text>
</g>
<g id="timing-9">
<rect x="992" y="444" width="57" height="56" class="org" filter="url(#sh)"/>
<text class="t"><tspan x="996.3" y="451.8" class="b">TIMINGS</tspan><tspan x="996.3" y="457.5">Time on task</tspan><tspan x="996.3" y="463.2">Time to complete</tspan></text>
</g>
<g id="timing-10">
<rect x="1053" y="444" width="57" height="56" class="org" filter="url(#sh)"/>
<text class="t"><tspan x="1057.3" y="451.8" class="b">TIMINGS</tspan><tspan x="1057.3" y="457.5">Time on task</tspan><tspan x="1057.3" y="463.2">Time to complete</tspan><tspan x="1057.3" y="468.9">SLA</tspan></text>
</g>
<g id="timing-11">
<rect x="1126" y="445" width="56" height="56" class="org" filter="url(#sh)"/>
<text class="t"><tspan x="1130.3" y="452.8" class="b">TIMINGS</tspan><tspan x="1130.3" y="458.5">Time on task</tspan><tspan x="1130.3" y="464.2">Time to complete</tspan></text>
</g>
<g id="timing-12">
<rect x="1187" y="445" width="56" height="56" class="org" filter="url(#sh)"/>
<text class="t">
<tspan x="1191.3" y="452.8" class="b">TIMINGS</tspan>
<tspan x="1191.3" y="458.5">Time on task</tspan>
<tspan x="1191.3" y="464.2">Time to complete</tspan>
<tspan x="1191.3" y="469.9">SLA</tspan>
<tspan x="1194.3" y="475.6">•</tspan><tspan x="1197.7" class="b">5 BD after after 8 hrs</tspan>
<tspan x="1197.7" y="481.3" class="b">LDQ inbox</tspan>
</text>
</g>

<g id="opp-1">
<rect x="244" y="508" width="99" height="57" class="blu" filter="url(#sh)"/>
<text class="t">
<tspan x="249" y="515.8" class="b">Opportunities:</tspan>
<tspan x="249" y="521.5">Have visibility of completeness of all of below:</tspan>
<tspan x="251.5" y="527.2">•</tspan><tspan x="254.5">Automate lender directory updates</tspan>
<tspan x="251.5" y="532.9">•</tspan><tspan x="254.5">Auto generate new amort schedules</tspan>
<tspan x="251.5" y="538.6">•</tspan><tspan x="254.5">Auto generate adhoc payments (paydowns)</tspan>
<tspan x="251.5" y="544.3">•</tspan><tspan x="254.5">Auto generate notices and invoices</tspan>
<tspan x="251.5" y="550">•</tspan><tspan x="254.5">Display new facilities in LI</tspan>
<tspan x="251.5" y="555.7">•</tspan><tspan x="254.5">Generated human approver actions</tspan>
</text>
</g>
<g id="opp-2">
<rect x="368" y="508" width="98" height="57" class="blu" filter="url(#sh)"/>
<text class="t">
<tspan x="373" y="515.8" class="b">Opportunities:</tspan>
<tspan x="376" y="521.5">•</tspan><tspan x="379">Early stage enrichment of terms to help ensure</tspan>
<tspan x="379" y="527.2">AMDS are processed and approved in effective</tspan>
<tspan x="379" y="532.9">date</tspan>
<tspan x="376" y="538.6">•</tspan><tspan x="379">Make nTools redundant</tspan>
<tspan x="376" y="544.3">•</tspan><tspan x="379">Remove need for email for info exchange</tspan>
<tspan x="376" y="550">•</tspan><tspan x="379">Preview / project potential economic impact</tspan>
</text>
</g>
<g id="opp-3">
<rect x="480" y="508" width="97" height="57" class="blu" filter="url(#sh)"/>
<text class="t">
<tspan x="484" y="515.8" class="b">Opportunities:</tspan>
<tspan x="486.5" y="521.5">•</tspan><tspan x="489.5">Automate lender directory updates</tspan>
<tspan x="486.5" y="527.2">•</tspan><tspan x="489.5">Auto generate new amort schedules</tspan>
<tspan x="486.5" y="532.9">•</tspan><tspan x="489.5">Auto generate adhoc payments (paydowns)</tspan>
<tspan x="486.5" y="538.6">•</tspan><tspan x="489.5">Auto generate notices and invoices</tspan>
<tspan x="486.5" y="544.3">•</tspan><tspan x="489.5">Display new facilities in LII</tspan>
<tspan x="486.5" y="550">•</tspan><tspan x="489.5">Generated human approver actions</tspan>
</text>
</g>
<g id="opp-4">
<rect x="725" y="508" width="56" height="57" class="blu" filter="url(#sh)"/>
<text class="t">
<tspan x="729.3" y="515.8" class="b">Opportunities:</tspan>
<tspan x="733.3" y="521.5">•</tspan><tspan x="736.7">Early stage enrichment</tspan>
<tspan x="736.7" y="527.2">of terms to help ensure</tspan>
<tspan x="736.7" y="532.9">AMDS are processed</tspan>
<tspan x="736.7" y="538.6">and approved in</tspan>
<tspan x="736.7" y="544.3">effective date</tspan>
<tspan x="733.3" y="550">•</tspan><tspan x="736.7">Automate overrides</tspan>
<tspan x="736.7" y="555.7">feedback</tspan>
</text>
</g>
<g id="opp-5">
<rect x="797" y="508" width="57" height="98" class="blu" filter="url(#sh)"/>
<text class="t">
<tspan x="801.3" y="515.8" class="b">Opportunities:</tspan>
<tspan x="805.3" y="521.5">•</tspan><tspan x="808.7">Remove need to</tspan>
<tspan x="808.7" y="527.2">Sharepoint tracking</tspan>
<tspan x="805.3" y="532.9">•</tspan><tspan x="808.7">Remove need for email</tspan>
<tspan x="808.7" y="538.6">for info exchange</tspan>
<tspan x="805.3" y="544.3">•</tspan><tspan x="808.7">Link doc term</tspan>
<tspan x="808.7" y="550">interdependencies</tspan>
<tspan x="805.3" y="555.7">•</tspan><tspan x="808.7">Ability to prioritise</tspan>
<tspan x="808.7" y="561.4">based on no. of day to</tspan>
<tspan x="808.7" y="567.1">or passed effective</tspan>
<tspan x="808.7" y="572.8">date or loaded into</tspan>
<tspan x="808.7" y="578.5">system</tspan>
<tspan x="805.3" y="584.2">•</tspan><tspan x="808.7">Add ability to comment</tspan>
<tspan x="808.7" y="589.9">within ELA</tspan>
<tspan x="805.3" y="595.6">•</tspan><tspan x="808.7">Editable UI for deal</tspan>
<tspan x="808.7" y="601.3">terms</tspan>
</text>
</g>

<g id="metrics-panel">
<rect x="1322" y="66" width="133" height="503" fill="#1e1e1e"/>
<text x="1388.5" y="115" class="pc" font-size="9.6">No. of users</text>
<text x="1388.5" y="138" class="pc" font-size="15">6</text>
<text x="1388.5" y="149" class="pc ps">1 BDPG</text>
<text x="1388.5" y="154.6" class="pc ps">2 OPS (review maker and checker)</text>
<text x="1388.5" y="160.2" class="pc ps">3 LDQ (review maker and checker, 2nd checker)</text>
<text x="1388.5" y="181" class="pc" font-size="9.6">No. of tools</text>
<text x="1388.5" y="203" class="pc" font-size="15">8</text>
<text x="1388.5" y="214.7" class="pc ps">Email</text>
<text x="1388.5" y="220.3" class="pc ps">Phoenix</text>
<text x="1388.5" y="226" class="pc ps">Excel</text>
<text x="1388.5" y="231.7" class="pc ps">Word</text>
<text x="1388.5" y="237.3" class="pc ps">PDF</text>
<text x="1388.5" y="243" class="pc ps">LPE</text>
<text x="1388.5" y="248.7" class="pc ps">Sharepoint (Tracking and commenting)</text>
<text x="1388.5" y="254.3" class="pc ps">Lockbox (Doc storage)</text>
<text x="1388.5" y="275.5" class="pc b" font-size="9.1">IBD Metrics</text>
<text x="1388.5" y="281.5" class="pc ps">Data compiled over 12 months- period as of Nov 2023</text>
<text x="1388.5" y="292.5" class="pc ps">Amendments pending</text>
<text x="1388.5" y="301.5" class="pc pv">69.8</text>
<text x="1388.5" y="312.5" class="pc ps">Outstanding amendments greater than 5 days</text>
<text x="1388.5" y="321" class="pc pv">46.8</text>
<text x="1388.5" y="332.5" class="pc ps">LPE vs Phoenix breaks (of 0ask)</text>
<text x="1388.5" y="341" class="pc"><tspan class="pv">35.4</tspan><tspan font-size="3.4" font-weight="700"> SLA has removed</tspan></text>
<text x="1388.5" y="355.5" class="pc ps">Average age of pending amendments</text>
<text x="1388.5" y="364" class="pc" font-size="5.5">Not known</text>
<text x="1388.5" y="378.5" class="pc ps">Approx no. day LPE approved after effective date</text>
<text x="1388.5" y="387" class="pc"><tspan class="pv">16 days</tspan><tspan font-size="3.4"> Approx</tspan></text>
<text x="1388.5" y="401" class="pc ps">Total no. of risks and issues in current process</text>
<text x="1388.5" y="409.5" class="pc pv">24</text>
<text x="1388.5" y="424.5" class="pc ps">Hours spent per week manually generating reports</text>
<text x="1388.5" y="433" class="pc pv">3hrs estimated</text>
<text x="1388.5" y="447.5" class="pc ps">Reports tracked:</text>
<text x="1388.5" y="456" class="pc pb">• 1 week</text>
<text x="1388.5" y="464.5" class="pc pb">• Quarter,</text>
<text x="1388.5" y="473" class="pc pb">• Year to date</text>
<text x="1388.5" y="481.5" class="pc pb">• Last 12 months</text>
<text x="1388.5" y="496" class="pc ps">AMBC priority metric:</text>
<text x="1388.5" y="505" class="pc pb">• No of days in system</text>
<text x="1388.5" y="514" class="pc"><tspan class="pb">• No of days passed effective date</tspan><tspan font-size="3.4"> (Don't</tspan></text>
<text x="1392" y="519.5" class="pc" font-size="3.4">have this today in current process)</text>
</g>
</svg>
